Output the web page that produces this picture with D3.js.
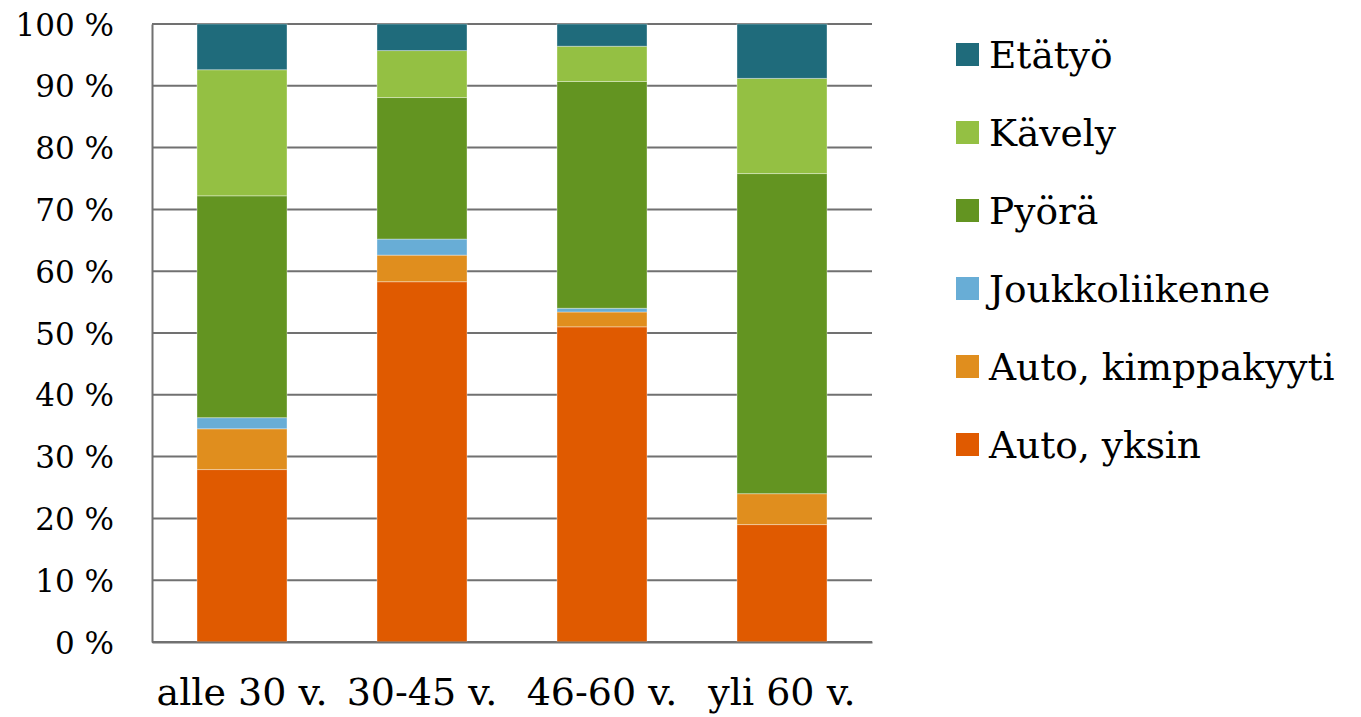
<!DOCTYPE html>
<html lang="fi">
<head>
	<meta charset="UTF-8">
	<title>Kulkutapa ikäryhmittäin</title>
	<script src="https://d3js.org/d3.v7.min.js"></script>
	<style>
		body { margin: 0; background: #fff; }
		text { font-family: 'DejaVu Serif', serif; fill: #000; }
	</style>
</head>
<body>
	<div class="box"></div>

	<script type="text/javascript">
		// data (percent of each age group)
		let categories = ['alle 30 v.', '30-45 v.', '46-60 v.', 'yli 60 v.']
		let series = ['Auto, yksin', 'Auto, kimppakyyti', 'Joukkoliikenne', 'Pyörä', 'Kävely', 'Etätyö']
		let autoYksin = [27.9, 58.3, 51.0, 19.0]
		let autoKimppa = [6.6, 4.3, 2.4, 5.0]
		let joukko = [1.8, 2.6, 0.6, 0]
		let pyora = [35.9, 22.9, 36.7, 51.8]
		let kavely = [20.4, 7.6, 5.7, 15.4]
		let etatyo = [7.4, 4.3, 3.6, 8.8]
		let yTicks = [0, 10, 20, 30, 40, 50, 60, 70, 80, 90, 100]

		let colors = ['#e05a00', '#e08e1e', '#68add6', '#639421', '#94c043', '#1f6b7b']

		let width = 1361
		let height = 717
		let margin = { top: 24, right: 489, bottom: 75, left: 152 }
		let svg = d3.select('.box').append('svg').attr('width', width).attr('height', height)

		let cols = [autoYksin, autoKimppa, joukko, pyora, kavely, etatyo]
		let rows = categories.map((c, i) => {
			let r = { cat: c }
			series.forEach((s, j) => { r[s] = cols[j][i] })
			return r
		})
		let stacked = d3.stack().keys(series)(rows)

		let x = d3.scaleBand().domain(categories)
			.range([margin.left, width - margin.right])
			.paddingInner(0.5).paddingOuter(0.25)
		let y = d3.scaleLinear().domain([0, 100]).range([height - margin.bottom, margin.top])

		// gridlines
		svg.append('g').selectAll('line').data(yTicks).enter().append('line')
			.attr('x1', margin.left).attr('x2', width - margin.right)
			.attr('y1', d => y(d)).attr('y2', d => y(d))
			.attr('stroke', '#717171').attr('stroke-width', 2)

		// bars
		svg.append('g').selectAll('g').data(stacked).enter().append('g')
			.attr('fill', (d, i) => colors[i])
			.selectAll('rect').data(d => d).enter().append('rect')
			.attr('x', d => x(d.data.cat))
			.attr('y', d => y(d[1]))
			.attr('width', x.bandwidth())
			.attr('height', d => y(d[0]) - y(d[1]))
			.attr('stroke', '#ffffff').attr('stroke-opacity', 0.35).attr('stroke-width', 1)

		// axes
		let yAxis = d3.axisLeft(y).tickValues(yTicks).tickSize(0).tickPadding(38)
			.tickFormat(d => d + ' %')
		let gy = svg.append('g').attr('transform', `translate(${margin.left},0)`).call(yAxis)
		gy.select('.domain').attr('stroke', '#717171').attr('stroke-width', 2)
		gy.selectAll('text').style('font-size', '31px').attr('dy', '0.36em')

		let xAxis = d3.axisBottom(x).tickSize(0).tickPadding(36)
		let gx = svg.append('g').attr('transform', `translate(0,${height - margin.bottom})`).call(xAxis)
		gx.select('.domain').attr('stroke', '#717171').attr('stroke-width', 2)
		gx.selectAll('text').style('font-size', '38px').attr('dy', '0.71em')

		// legend, top entry is the top of the stack
		let legend = svg.append('g').selectAll('g').data(series.slice().reverse()).enter().append('g')
			.attr('transform', (d, i) => `translate(956,${54.5 + i * 78})`)
		legend.append('rect')
			.attr('x', 0).attr('y', -11.5).attr('width', 23).attr('height', 23)
			.attr('fill', (d, i) => colors[series.length - 1 - i])
		legend.append('text')
			.attr('x', 33).attr('dy', '0.36em')
			.style('font-size', '37.5px')
			.text(d => d)
	</script>
</body>
</html>
